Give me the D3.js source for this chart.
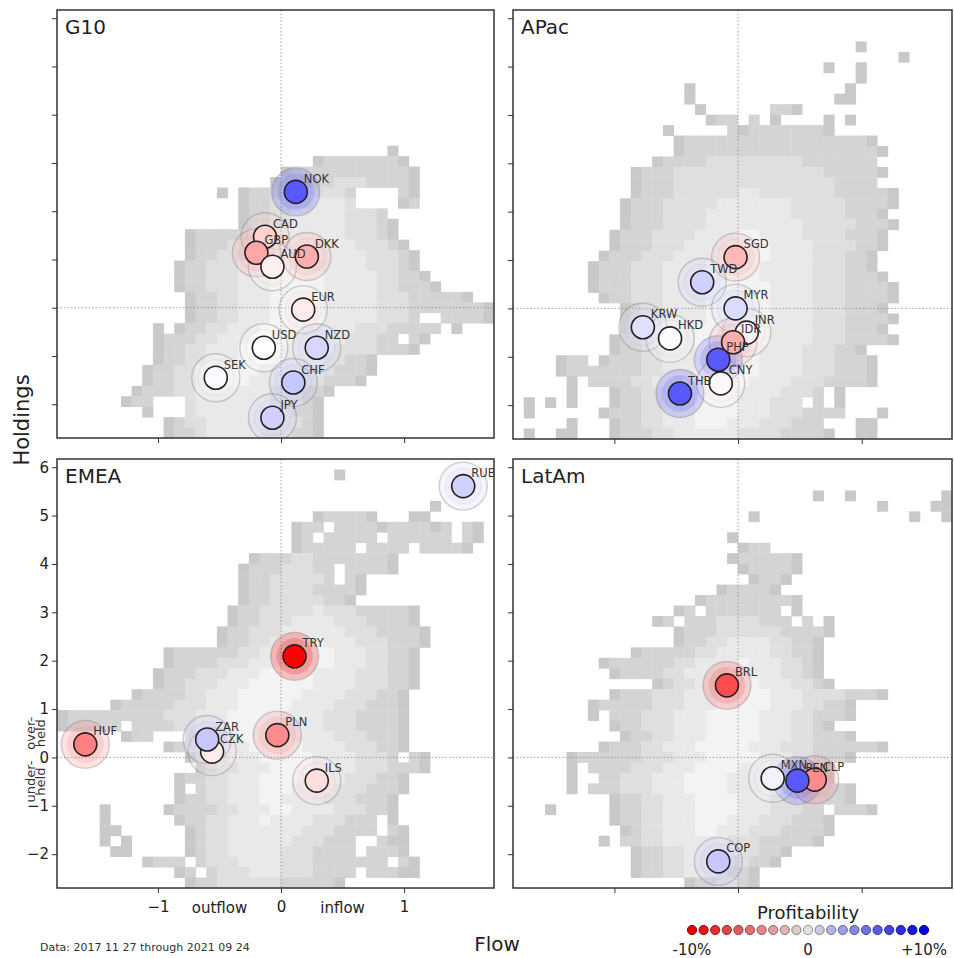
<!DOCTYPE html>
<html><head><meta charset="utf-8">
<script src="https://cdn.jsdelivr.net/npm/d3@7"></script>
<style>body{margin:0;background:#fff} svg{display:block;font-family:"DejaVu Sans",sans-serif}</style>
</head><body><svg id="c" width="954" height="958"></svg>
<script>
// ---------------- data ----------------
const panelNames = ["G10","APac","EMEA","LatAm"];
const xTicks = [-1,0,1];
const yTicks = [-2,-1,0,1,2,3,4,5,6];
const flowWordPos = [-0.5,0.5];
const flowWords = ["outflow","inflow"];
const heldPos = [0.5,-0.5];
const heldWords = [["over-","held"],["under-","held"]];
const legendValues = [-10,-9,-8,-7,-6,-5,-4,-3,-2,-1,0,1,2,3,4,5,6,7,8,9,10];
const legendLabelValues = [-10,0,10];
const legendLabels = ["-10%","0","+10%"];

const g10Codes = ["NOK","CAD","GBP","AUD","DKK","EUR","USD","NZD","SEK","CHF","JPY"];
const g10Flow  = [0.12,-0.13,-0.20,-0.07,0.21,0.18,-0.14,0.29,-0.53,0.10,-0.07];
const g10Hold  = [2.40,1.47,1.14,0.85,1.06,-0.04,-0.83,-0.83,-1.45,-1.55,-2.28];
const g10Prof  = [6.5,-1.8,-3.5,-0.6,-3.2,-0.8,0,1.6,0.2,2.2,1.8];

const apacCodes = ["SGD","TWD","MYR","KRW","HKD","INR","IDR","PHP","CNY","THB"];
const apacFlow  = [-0.02,-0.29,-0.02,-0.77,-0.55,0.07,-0.04,-0.16,-0.14,-0.47];
const apacHold  = [1.06,0.54,0.00,-0.39,-0.62,-0.50,-0.70,-1.06,-1.55,-1.76];
const apacProf  = [-2.8,1.8,1.4,1.2,0.1,-0.5,-3.2,6.5,-0.3,6.5];

const emeaCodes = ["RUB","TRY","HUF","CZK","ZAR","PLN","ILS"];
const emeaFlow  = [1.48,0.11,-1.59,-0.56,-0.60,-0.03,0.29];
const emeaHold  = [5.61,2.09,0.27,0.12,0.37,0.46,-0.48];
const emeaProf  = [1.8,-10,-5,-0.8,2.2,-4.5,-1.3];

const latamCodes = ["BRL","MXN","CLP","PEN","COP"];
const latamFlow  = [-0.09,0.28,0.62,0.48,-0.16];
const latamHold  = [1.49,-0.43,-0.46,-0.48,-2.15];
const latamProf  = [-7,0.5,-4.5,6.5,2.2];

// background 2-D histograms: [row, firstColumn, shade string] ('.' = empty, 1 dark .. 5 light)
const g10Hist = [
 [13,31,"1"],[14,24,"122222221"],[15,21,"1222222222221"],[16,20,"12222233322221"],
 [17,15,"1"],[17,17,"12223333332"],[17,32,"21"],
 [18,17,"12233334443"],[18,32,"12"],
 [19,17,"12233444443332"],[20,17,"122334444433321"],
 [21,12,"12222233444444433321"],[22,12,"122233344455444433321"],
 [23,12,"1223334445555444433321"],[24,11,"12233344455554444433321"],
 [25,11,"122333444555554444433221"],[26,11,"1223334445555544444332221"],
 [27,12,"122334445555544444333222221"],[28,12,"12233444555554444433322222221"],
 [29,12,"1223344455555444443332..22221"],[30,9,"1.1223344455554444433322222.1"],
 [31,9,"12223344455554444433322.21"],[32,9,"1223344455554444433332221"],
 [33,9,"122334445555444433221"],[34,8,"1223344455544443332221"],
 [35,8,"122334445544443332221"],[36,7,"1222334444444333221"],
 [37,6,"122...3444444433321"],[38,8,"1...3444444333221"],
 [39,10,"123344444433321"],[40,10,"122344444333221"]
];
const apacHist = [
 [3,32,"1"],[4,36,"1"],[5,29,"1"],[5,32,"1"],[6,32,"1"],[7,16,"1"],[7,31,"1"],
 [8,16,"1"],[8,30,"11"],[9,17,"1"],[9,24,"22"],[9,26,"1"],
 [10,18,"122"],[10,22,"2"],[10,24,"1"],[10,29,"1"],[10,31,"1"],
 [11,14,"1"],[11,20,"2122222221"],
 [12,15,"1222222222222222221"],[13,15,"12222222222222222221"],
 [14,13,"122223333333332222222"],[15,11,"122233333333333333222221"],
 [16,11,"12223333333333333332222"],[17,11,"1222333333443333333222221"],
 [18,10,"12223333344444443333322221"],[19,10,"1222333344444444333332221"],
 [20,10,"12223333444444444333332221"],[21,9,"12223333444455444433332221"],
 [22,9,"12223334444555544443333221"],[23,8,"12223334444555554444333221"],
 [24,7,"122233344445555544444333221"],[25,7,"1222333444455555444443332221"],
 [26,7,"12223334444555555444433322221"],[27,8,"1223334444555555444433322221"],
 [28,10,"1233444455555544443332221"],[29,10,"12334444555555444433322221"],
 [30,10,"1233444555555544443332221"],[31,9,"122334445555555444433322221"],
 [32,9,"122334445555554444333221"],[33,4,"122.12223344455555544443332221"],
 [34,4,"122222223344455555544443332221"],[35,5,"1.222233444555555444433322221"],
 [36,5,"1...12233444555544443332.1"],[37,1,"1.1.1...122334445555444333.2.1"],
 [38,1,"1......12223344455554443332222...1"],[39,5,"1...12233444555444333222...11"],
 [40,1,"1..11...122233444444333322221..11"]
];
const emeaHist = [
 [1,26,"1"],[4,35,"1"],[5,24,"122221"],[5,33,"11"],
 [6,22,"122.22221222212.21"],[7,22,"12.22222.222222.21"],[8,22,"122222.2222.22221"],
 [9,18,"12223322222221"],[10,17,"122233322.22221"],[11,17,"122333332.21"],
 [12,17,"122333322221"],[13,17,"12233333221"],[14,16,"122333334333222221"],
 [15,16,"122333444433322221"],[16,15,"12233344444433322221"],
 [17,15,"12233444554443332221"],[18,10,"122222233444555544433221"],
 [19,10,"122223334445555544433221"],[20,9,"1222333444555554444333221"],
 [21,9,"1223334445555554444333221"],[22,7,"12222334445555554444333221"],
 [23,5,"1222223334445555544443332221"],[24,0,"122222222233344455555444433322221"],
 [25,0,"122222.22223344455555444433322221"],[26,6,"122...334445555544443332221"],
 [27,10,"12333444555554444333221"],[28,12,"12334445555544443332.21"],
 [29,13,"1233444555544443332221"],[30,11,"1223344455554444333221"],
 [31,11,"1.23344455544443332221"],[32,11,"122334445544443332221"],
 [33,4,"1.....1222233444554444333221"],[34,4,"1......1223344454444333222.1"],
 [35,4,"11......123344444443332222.21"],[36,4,"1.1.....1233444444333222..211"],
 [37,5,"11.....1233444443332222.2221"],[38,8,"1222.233344443332222222.21"],
 [39,11,"12.23334443332222.22211"],[40,12,"122333333222221"]
];
const latamHist = [
 [3,28,"1"],[3,31,"1"],[3,40,"1"],[4,34,"1"],[4,39,"11"],[5,22,"1"],[5,37,"1"],[5,40,"1"],
 [7,20,"1"],[8,21,"122"],[9,20,"1222221"],[10,21,"122221"],[11,22,"1221"],
 [12,19,"122221"],[13,17,"1222222221"],[14,15,"12.2222222.1"],
 [15,13,"12.2223333222.2.1"],[16,15,"122233333322221"],[17,15,"12233444433221"],
 [18,11,"122222334444433221"],[19,8,"122222233444454443321"],
 [20,9,"12222334444554443321"],[21,13,"12334455554443321"],
 [22,9,"12223334445555544433332221"],[23,7,"1222223334445555544433221"],
 [24,7,"1.22233344455555444332221"],[25,9,"122333444555554443321"],
 [26,10,"1223344455555444332221"],[27,8,"122233444555554443332222221"],
 [28,5,"122222233344455555444332221"],[29,5,"1.22223334445555444333221"],
 [30,5,"1..22333444555544433322.1"],[31,5,"1.2223334445555444433322221"],
 [32,9,"12233444555544433322221"],[33,3,"1.....12233444555544433322.2221"],
 [34,9,"122334445554443332221"],[35,10,"12334445544433322221"],
 [36,8,"1.2233444444333222221"],[37,11,"122334444433221"],
 [38,11,"12233444433221"],[39,11,"122334443221"],[40,16,"1223321"]
];

// ---------------- drawing ----------------
const svg = d3.select("#c");
const xDomain = [-1.82, 1.73], yDomain = [-2.7, 6.17], nBins = 41;
const shade = {"1":"#c9c9c9","2":"#d4d4d4","3":"#dfdfdf","4":"#e9e9e9","5":"#f3f3f3"};
const color = d3.scaleLinear().domain([-10,0,10]).range(["#ff0000","#ffffff","#0000ff"]);

const panels = [
 {name:panelNames[0], box:[57,494,10,438], codes:g10Codes, flow:g10Flow, hold:g10Hold, prof:g10Prof, hist:g10Hist, xl:false, yl:false},
 {name:panelNames[1], box:[513,952,10,439], codes:apacCodes, flow:apacFlow, hold:apacHold, prof:apacProf, hist:apacHist, xl:false, yl:false},
 {name:panelNames[2], box:[57,494,459,888], codes:emeaCodes, flow:emeaFlow, hold:emeaHold, prof:emeaProf, hist:emeaHist, xl:true, yl:true},
 {name:panelNames[3], box:[513,952,459,888], codes:latamCodes, flow:latamFlow, hold:latamHold, prof:latamProf, hist:latamHist, xl:false, yl:false}
];

const fmt = d => d < 0 ? "\u2212" + Math.abs(d) : String(d);

panels.forEach((p, pi) => {
  const [X0, X1, Y0, Y1] = p.box;
  const x = d3.scaleLinear().domain(xDomain).range([X0, X1]);
  const y = d3.scaleLinear().domain(yDomain).range([Y1, Y0]);
  const clipId = "clip" + pi;
  svg.append("clipPath").attr("id", clipId).append("rect")
    .attr("x", X0).attr("y", Y0).attr("width", X1 - X0).attr("height", Y1 - Y0);
  const g = svg.append("g");
  const inner = g.append("g").attr("clip-path", `url(#${clipId})`);

  // histogram cells
  const xb = (xDomain[1] - xDomain[0]) / nBins, yb = (yDomain[1] - yDomain[0]) / nBins;
  const cells = [];
  p.hist.forEach(([r, c0, s]) => {
    for (let k = 0; k < s.length; k++) if (s[k] !== ".") cells.push({r, c: c0 + k, v: s[k]});
  });
  inner.append("g").selectAll("rect").data(cells).join("rect")
    .attr("x", d => x(xDomain[0] + d.c * xb))
    .attr("y", d => y(yDomain[1] - d.r * yb))
    .attr("width", d => x(xDomain[0] + (d.c + 1) * xb) - x(xDomain[0] + d.c * xb) + 0.4)
    .attr("height", d => y(yDomain[1] - (d.r + 1) * yb) - y(yDomain[1] - d.r * yb) + 0.4)
    .attr("fill", d => shade[d.v]);

  // zero lines
  inner.append("line").attr("x1", x(0)).attr("x2", x(0)).attr("y1", Y0).attr("y2", Y1)
    .attr("stroke", "#8a8a8a").attr("stroke-width", 0.8).attr("stroke-dasharray", "1.5,2");
  inner.append("line").attr("x1", X0).attr("x2", X1).attr("y1", y(0)).attr("y2", y(0))
    .attr("stroke", "#8a8a8a").attr("stroke-width", 0.8).attr("stroke-dasharray", "1.5,2");

  // bubbles
  const pts = p.codes.map((c, i) => ({code: c, fx: p.flow[i], hy: p.hold[i], pr: p.prof[i]}));
  const halo = inner.append("g");
  halo.selectAll("circle.h1").data(pts).join("circle").attr("class", "h1")
    .attr("cx", d => x(d.fx)).attr("cy", d => y(d.hy)).attr("r", 24)
    .attr("fill", d => color(d.pr)).attr("fill-opacity", 0.22)
    .attr("stroke", "#777").attr("stroke-opacity", 0.35).attr("stroke-width", 1.4);
  halo.selectAll("circle.h2").data(pts).join("circle").attr("class", "h2")
    .attr("cx", d => x(d.fx)).attr("cy", d => y(d.hy)).attr("r", 18)
    .attr("fill", d => color(d.pr)).attr("fill-opacity", 0.2)
    .attr("stroke", "#999").attr("stroke-opacity", 0.15).attr("stroke-width", 1);
  inner.append("g").selectAll("circle").data(pts).join("circle")
    .attr("cx", d => x(d.fx)).attr("cy", d => y(d.hy)).attr("r", 11.5)
    .attr("fill", d => color(d.pr)).attr("stroke", "#222").attr("stroke-width", 1.6);
  inner.append("g").selectAll("text").data(pts).join("text")
    .attr("x", d => x(d.fx) + 8).attr("y", d => y(d.hy) - 9)
    .attr("font-size", 11.5).attr("fill", "#333").text(d => d.code);

  // frame
  g.append("rect").attr("x", X0).attr("y", Y0).attr("width", X1 - X0).attr("height", Y1 - Y0)
    .attr("fill", "none").attr("stroke", "#333").attr("stroke-width", 1.5);

  // axes
  const xa = g.append("g").attr("transform", `translate(0,${Y1})`)
    .call(d3.axisBottom(x).tickValues(xTicks).tickSize(5).tickPadding(8)
      .tickFormat(p.xl ? fmt : () => ""));
  const ya = g.append("g").attr("transform", `translate(${X0},0)`)
    .call(d3.axisLeft(y).tickValues(yTicks).tickSize(5).tickPadding(3)
      .tickFormat(p.yl ? fmt : () => ""));
  [xa, ya].forEach(a => {
    a.select(".domain").remove();
    a.selectAll(".tick line").attr("stroke", "#333").attr("stroke-width", 1);
    a.selectAll(".tick text").attr("font-size", 15).attr("fill", "#222")
      .attr("font-family", "DejaVu Sans, sans-serif");
  });

  if (p.xl) {
    g.append("g").selectAll("text").data(flowWords).join("text")
      .attr("x", (d, i) => x(flowWordPos[i])).attr("y", Y1 + 25)
      .attr("text-anchor", "middle").attr("font-size", 15).attr("fill", "#222").text(d => d);
  }
  if (p.yl) {
    heldWords.forEach((lines, i) => {
      const t = g.append("text")
        .attr("transform", `translate(35,${y(heldPos[i])}) rotate(-90)`)
        .attr("text-anchor", "middle").attr("font-size", 13).attr("fill", "#333");
      lines.forEach((ln, j) => t.append("tspan").attr("x", 0).attr("dy", j === 0 ? 0 : 10).text(ln));
    });
  }

  // panel title
  g.append("text").attr("x", X0 + 8).attr("y", Y0 + 24)
    .attr("font-size", 20).attr("fill", "#222").text(p.name);
});

// global labels
svg.append("text").attr("transform", "translate(29,420) rotate(-90)")
  .attr("text-anchor", "middle").attr("font-size", 21).attr("fill", "#222").text("Holdings");
svg.append("text").attr("x", 497).attr("y", 951).attr("text-anchor", "middle")
  .attr("font-size", 20).attr("fill", "#222").text("Flow");
svg.append("text").attr("x", 40).attr("y", 951).attr("font-size", 11).attr("fill", "#333")
  .text("Data: 2017 11 27 through 2021 09 24");

// legend
const lx = d3.scaleLinear().domain([-10, 10]).range([692, 924]);
svg.append("text").attr("x", lx(0)).attr("y", 919).attr("text-anchor", "middle")
  .attr("font-size", 18).attr("fill", "#222").text("Profitability");
svg.append("g").selectAll("circle").data(legendValues).join("circle")
  .attr("cx", d => lx(d)).attr("cy", 930).attr("r", 4.6)
  .attr("fill", d => d3.color(color(d)).darker(0.35))
  .attr("stroke", d => d3.color(color(d)).darker(1.6))
  .attr("stroke-width", 1);
svg.append("g").selectAll("text").data(legendLabels).join("text")
  .attr("x", (d, i) => lx(legendLabelValues[i])).attr("y", 955).attr("text-anchor", "middle")
  .attr("font-size", 15).attr("fill", "#222").text(d => d);
</script>
</body></html>
